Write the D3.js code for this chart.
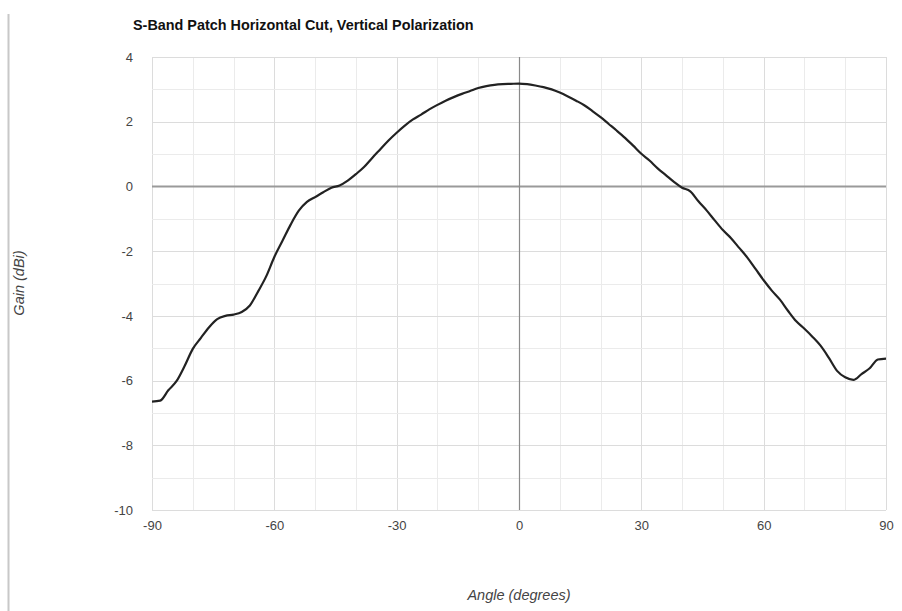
<!DOCTYPE html>
<html>
<head>
<meta charset="utf-8">
<script src="https://cdn.jsdelivr.net/npm/d3@7"></script>
<style>
  html, body { margin: 0; padding: 0; background: #fff; }
  svg { display: block; font-family: "Liberation Sans", Arial, sans-serif; }
</style>
</head>
<body>
<svg id="chart" width="902" height="611"></svg>
<script>
// Measured gain of the S-band patch, horizontal cut, vertical polarization
const angles = [
  -90, -88, -86, -84, -82, -80, -78, -76, -74, -72, -70, -68, -66, -64, -62, -60,
  -58, -56, -54, -52, -50, -48, -46, -44, -42, -40, -38, -36, -34, -32, -30, -28,
  -26, -24, -22, -20, -18, -16, -14, -12, -10, -8, -6, -4, -2, 0, 2, 4, 6, 8, 10,
  12, 14, 16, 18, 20, 22, 24, 26, 28, 30, 32, 34, 36, 38, 40, 42, 44, 46, 48, 50,
  52, 54, 56, 58, 60, 62, 64, 66, 68, 70, 72, 74, 76, 78, 80, 82, 84, 86, 88, 90
];
const gainDbi = [
  -6.65, -6.62, -6.30, -6.02, -5.55, -5.02, -4.68, -4.35, -4.10, -4.00, -3.96, -3.88, -3.68, -3.25, -2.78, -2.18,
  -1.68, -1.18, -0.75, -0.48, -0.33, -0.18, -0.04, 0.03, 0.18, 0.38, 0.60, 0.88, 1.15, 1.42, 1.66, 1.88,
  2.07, 2.22, 2.38, 2.52, 2.65, 2.76, 2.86, 2.95, 3.04, 3.10, 3.14, 3.16, 3.17, 3.18, 3.16, 3.12, 3.07, 3.00, 2.90,
  2.78, 2.65, 2.51, 2.33, 2.14, 1.93, 1.72, 1.50, 1.26, 1.01, 0.80, 0.56, 0.35, 0.14, -0.04, -0.15, -0.46, -0.74, -1.05, -1.35,
  -1.60, -1.90, -2.20, -2.55, -2.90, -3.22, -3.50, -3.85, -4.17, -4.40, -4.65, -4.93, -5.30, -5.70, -5.90, -5.98, -5.80, -5.62, -5.35, -5.32
];
const xTicks = [-90, -60, -30, 0, 30, 60, 90];
const xMinorTicks = [-90, -80, -70, -60, -50, -40, -30, -20, -10, 0, 10, 20, 30, 40, 50, 60, 70, 80, 90];
const yTicks = [-10, -8, -6, -4, -2, 0, 2, 4];
const yMinorTicks = [-10, -9, -8, -7, -6, -5, -4, -3, -2, -1, 0, 1, 2, 3, 4];

const titleText = "S-Band Patch Horizontal Cut, Vertical Polarization";
const xTitle = "Angle (degrees)";
const yTitle = "Gain (dBi)";

const svg = d3.select("#chart");
const margin = { left: 152, right: 16, top: 57, bottom: 101 };
const W = 902, H = 611;

const x = d3.scaleLinear().domain([-90, 90]).range([margin.left, W - margin.right]);
const y = d3.scaleLinear().domain([-10, 4]).range([H - margin.bottom, margin.top]);

// plain hyphen-minus for negative tick labels
const fmt = d => String(d);

// page edge rule on the left
svg.append("line")
  .attr("x1", 8.5).attr("x2", 8.5).attr("y1", 14).attr("y2", H)
  .attr("stroke", "#c8c8c8").attr("stroke-width", 2);

// grid: every 10 degrees and every 1 dB, slightly darker on labelled ticks
const grid = svg.append("g");
grid.selectAll(".v").data(xMinorTicks).join("line")
  .attr("x1", d => Math.round(x(d)) + 0.5).attr("x2", d => Math.round(x(d)) + 0.5)
  .attr("y1", y(4)).attr("y2", y(-10))
  .attr("stroke", d => xTicks.includes(d) ? "#dcdcdc" : "#ebebeb").attr("stroke-width", 1);
grid.selectAll(".h").data(yMinorTicks).join("line")
  .attr("x1", x(-90)).attr("x2", x(90))
  .attr("y1", d => Math.round(y(d)) + 0.5).attr("y2", d => Math.round(y(d)) + 0.5)
  .attr("stroke", d => yTicks.includes(d) ? "#dcdcdc" : "#ebebeb").attr("stroke-width", 1);

// baselines through zero
svg.append("line")
  .attr("x1", x(-90)).attr("x2", x(90))
  .attr("y1", y(0)).attr("y2", y(0))
  .attr("stroke", "#9a9a9a").attr("stroke-width", 2);
svg.append("line")
  .attr("x1", Math.round(x(0)) + 0.5).attr("x2", Math.round(x(0)) + 0.5)
  .attr("y1", y(4)).attr("y2", y(-10))
  .attr("stroke", "#8a8a8a").attr("stroke-width", 1.2);

// axes (labels only, no domain or tick marks)
const xAxis = svg.append("g")
  .attr("transform", `translate(0,${y(-10) + 8})`)
  .call(d3.axisBottom(x).tickValues(xTicks).tickSize(0).tickFormat(fmt));
xAxis.select(".domain").remove();
xAxis.selectAll("text").attr("fill", "#444").attr("font-size", 13).attr("dy", "0.71em");

const yAxis = svg.append("g")
  .attr("transform", `translate(${x(-90) - 16},0)`)
  .call(d3.axisLeft(y).tickValues(yTicks).tickSize(0).tickFormat(fmt));
yAxis.select(".domain").remove();
yAxis.selectAll("text").attr("fill", "#444").attr("font-size", 13);

// gain curve
const data = angles.map((a, i) => ({ a, g: gainDbi[i] }));
svg.append("path")
  .datum(data)
  .attr("fill", "none")
  .attr("stroke", "#222")
  .attr("stroke-width", 2.2)
  .attr("stroke-linejoin", "round")
  .attr("d", d3.line().x(d => x(d.a)).y(d => y(d.g)).curve(d3.curveMonotoneX));

// titles
svg.append("text")
  .attr("x", 133).attr("y", 30)
  .attr("font-size", 14.4).attr("font-weight", "bold").attr("fill", "#111")
  .text(titleText);

svg.append("text")
  .attr("x", x(0)).attr("y", 600)
  .attr("text-anchor", "middle")
  .attr("font-size", 14.5).attr("font-style", "italic").attr("fill", "#444")
  .text(xTitle);

svg.append("text")
  .attr("transform", `translate(24,${283}) rotate(-90)`)
  .attr("text-anchor", "middle")
  .attr("font-size", 14.5).attr("font-style", "italic").attr("fill", "#444")
  .text(yTitle);
</script>
</body>
</html>
